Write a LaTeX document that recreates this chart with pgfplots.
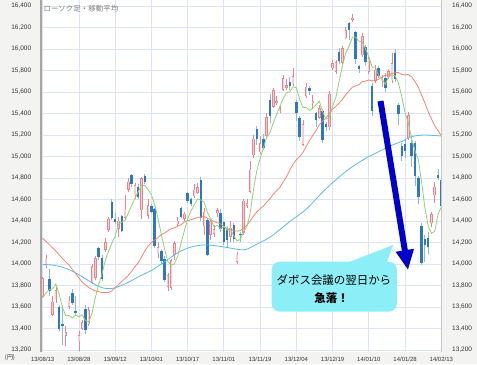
\documentclass[border=0pt]{standalone}
\usepackage{pgfplots}
\pgfplotsset{compat=1.18}
\usepackage{pgfplotstable}
\usetikzlibrary{arrows.meta}
\usepackage{fontspec}
\setmainfont{Liberation Sans}
\newfontfamily\jp{Noto Sans CJK JP}
\definecolor{bggray}{HTML}{F3F3F1}
\definecolor{gridc}{HTML}{DCE3F4}
\definecolor{upedge}{HTML}{E8838F}
\definecolor{upfill}{HTML}{F7CDD2}
\definecolor{dnbody}{HTML}{2E78BE}
\definecolor{dnwick}{HTML}{86B9E3}
\definecolor{maA}{HTML}{92D36E}
\definecolor{maB}{HTML}{F4846E}
\definecolor{maC}{HTML}{5BB9EA}
\definecolor{calloutc}{HTML}{8CEFF8}
\definecolor{arrowc}{HTML}{0000CC}
\definecolor{labc}{HTML}{333333}

\pgfplotstableread{
x O H L C
0 13700 13880 13690 13867
1 13980 14080 13960 14050
3 13530 13700 13520 13650
4 13670 13790 13640 13758
7 13330 13420 13240 13366
8 13600 13700 13580 13660
11 13280 13380 13190 13338
12 13400 13480 13390 13459
14 13440 13600 13420 13572
15 13830 14000 13810 13978
16 13870 14070 13850 14053
19 14130 14240 14110 14205
20 14320 14440 14300 14423
23 14330 14440 14250 14404
25 14430 14640 14410 14505
26 14690 14800 14670 14766
28 14640 14750 14600 14733
30 14500 14810 14420 14799
32 14450 14600 14420 14550
35 14100 14200 14060 14157
38 13790 13920 13750 13894
39 13780 14050 13760 14037
40 14080 14210 14040 14194
41 14370 14440 14350 14404
43 14420 14480 14400 14467
46 14630 14740 14610 14693
47 14660 14750 14650 14713
49 14350 14520 14270 14486
51 14270 14410 14220 14396
52 14280 14360 14250 14325
53 14470 14520 14440 14502
57 14250 14400 14200 14337
59 14020 14110 14000 14086
61 14290 14600 14270 14589
62 14540 14600 14520 14567
63 14670 14960 14660 14876
64 15010 15200 14990 15165
66 15040 15190 15020 15126
68 15190 15400 15180 15365
70 15460 15640 15450 15619
71 15500 15560 15480 15515
72 15420 15470 15400 15449
73 15620 15760 15610 15727
74 15640 15720 15620 15661
76 15670 15820 15660 15749
79 15110 15340 15100 15299
80 15560 15680 15540 15650
82 15500 15570 15440 15515
84 15360 15480 15350 15450
87 15270 15610 15250 15586
88 15820 15900 15800 15870
89 15790 15900 15770 15880
91 15870 16030 15860 16009
92 16100 16200 16090 16174
94 16270 16330 16250 16291
97 15940 16150 15930 16121
99 15790 15930 15770 15912
101 15700 15850 15680 15808
103 15700 15760 15650 15734
105 15740 15810 15720 15795
106 15710 15960 15680 15870
111 15170 15410 15150 15383
118 14380 14480 14340 14462
119 14640 14760 14570 14718
}\uptable

\pgfplotstableread{
x O H L C
2 13860 13950 13700 13752
5 13600 13620 13380 13396
6 13440 13620 13250 13424
9 13730 13770 13620 13636
10 13560 13700 13520 13542
13 13580 13620 13350 13388
17 14150 14160 14040 14065
18 14060 14080 13840 13860
21 14580 14600 14410 14425
22 14420 14470 14370 14387
24 14450 14460 14300 14311
27 14830 14840 14720 14742
29 14720 14740 14600 14620
31 14820 14840 14740 14760
33 14540 14560 14470 14484
34 14510 14520 14150 14170
36 14120 14140 14000 14024
37 14050 14070 13830 13853
42 14520 14530 14430 14441
44 14660 14670 14570 14586
45 14600 14610 14540 14561
48 14780 14810 14400 14426
50 14410 14430 14070 14088
54 14470 14510 14300 14327
55 14390 14400 14180 14201
56 14330 14350 14150 14225
58 14360 14380 14200 14228
60 14280 14300 14200 14269
65 15260 15280 15110 15164
67 15160 15210 15060 15076
69 15530 15580 15310 15381
75 15690 15740 15620 15655
77 15510 15530 15330 15407
78 15360 15380 15140 15177
81 15640 15660 15570 15611
83 15400 15410 15270 15341
85 15420 15440 15130 15152
86 15300 15320 15240 15279
90 15970 16010 15860 15889
93 16240 16250 16080 16178
95 16160 16170 15860 15908
96 15840 15850 15780 15814
98 16020 16040 15840 15880
100 15660 15680 15380 15422
102 15820 15840 15730 15747
104 15730 15780 15600 15641
107 15960 16000 15690 15720
108 15480 15500 15290 15391
109 15100 15130 14960 15006
110 15120 15160 14990 15050
112 15130 15150 14900 15000
113 15130 15140 14730 14820
114 14800 14820 14560 14619
115 14350 14380 13990 14009
116 14230 14270 14020 14180
117 14240 14300 14090 14155
120 14830 14880 14780 14800
121 14780 14790 14500 14535
}\dntable

\begin{document}
\begin{tikzpicture}[x=1bp,y=1bp]
\fill[bggray] (0,0) rectangle (477,364);
\useasboundingbox (0,0) rectangle (477,364);
\begin{axis}[
  at={(41.7bp,12.5bp)}, anchor=south west,
  scale only axis, width=400bp, height=351.5bp,
  xmin=-0.3, xmax=121.12, ymin=13186, ymax=16455.8,
  axis background/.style={fill=white},
  axis line style={draw=none},
  xtick={0,11,...,121},
  xticklabels={13/08/13,13/08/28,13/09/12,13/10/01,13/10/17,13/11/01,13/11/19,13/12/04,13/12/19,14/01/10,14/01/28,14/02/13},
  ytick={13200,13400,...,16400},
  grid=major, major grid style={draw=gridc, line width=0.8bp},
  major tick length=0pt,
  scaled y ticks=false,
  /pgf/number format/fixed,
  /pgf/number format/1000 sep={,},
  /pgf/number format/assume math mode=true,
  yticklabel style={font=\fontsize{6.5}{7}\selectfont, text=labc, xshift=-7bp},
  xticklabel style={font=\fontsize{6}{7}\selectfont, text=labc, yshift=-2bp},
]
% wicks
\addplot[draw=none, mark=none, forget plot, error bars/.cd, y dir=plus, y explicit, error mark=none,
  error bar style={draw=upedge, line width=0.7bp}]
  table[x=x, y=L, y error plus expr={\thisrow{H}-\thisrow{L}}] {\uptable};
\addplot[draw=none, mark=none, forget plot, error bars/.cd, y dir=plus, y explicit, error mark=none,
  error bar style={draw=dnwick, line width=0.8bp}]
  table[x=x, y=L, y error plus expr={\thisrow{H}-\thisrow{L}}] {\dntable};
% bodies
\addplot[draw=none, mark=none, forget plot, error bars/.cd, y dir=plus, y explicit, error mark=none,
  error bar style={draw=upedge, line width=2.5bp}]
  table[x=x, y=O, y error plus expr={\thisrow{C}-\thisrow{O}}] {\uptable};
\addplot[draw=none, mark=none, forget plot, error bars/.cd, y dir=plus, y explicit, error mark=none,
  error bar style={draw=upfill, line width=1.2bp}]
  table[x=x, y expr={\thisrow{O}+6}, y error plus expr={max(\thisrow{C}-\thisrow{O}-12,0)}] {\uptable};
\addplot[draw=none, mark=none, forget plot, error bars/.cd, y dir=plus, y explicit, error mark=none,
  error bar style={draw=dnbody, line width=2.5bp}]
  table[x=x, y=C, y error plus expr={\thisrow{O}-\thisrow{C}}] {\dntable};
% 75-day MA
\addplot[maC, line width=0.8bp, smooth, mark=none] coordinates {
(0,13995)(3,13990)(7,13960)(11,13900)(15,13825)(18,13780)(21,13772)(25,13815)(29,13880)(33,13940)
(37,14020)(41,14105)(45,14158)(49,14177)(53,14168)(57,14148)(60,14133)(62,14138)(66,14200)(69,14250)
(72,14320)(75,14395)(80,14510)(85,14670)(90,14810)(94,14905)(98,14983)(102,15045)(106,15105)(109,15140)
(112,15185)(116,15200)(121,15190)};
% 25-day MA
\addplot[maB, line width=0.8bp, mark=none] coordinates {
(0,14240)(2,14180)(4,14120)(6,14050)(8,13990)(10,13910)(12,13830)(14,13780)(16,13750)(18,13735)(20,13735)(21,13750)(22,13778)(23,13808)
(24,13839)(25,13864)(26,13893)(27,13933)(28,13976)(29,14010)(30,14066)(31,14120)(32,14167)(33,14200)
(34,14222)(35,14246)(36,14274)(37,14289)(38,14310)(39,14328)(40,14337)(41,14351)(42,14366)(43,14390)
(44,14405)(45,14411)(46,14422)(47,14435)(48,14436)(49,14443)(50,14426)(51,14411)(52,14394)(53,14385)
(54,14373)(55,14350)(56,14328)(57,14320)(58,14309)(59,14306)(60,14311)(61,14333)(62,14362)(63,14401)
(64,14446)(65,14485)(66,14514)(67,14539)(68,14575)(69,14607)(70,14649)(71,14682)(72,14712)(73,14764)
(74,14811)(75,14873)(76,14927)(77,14971)(78,14998)(79,15037)(80,15094)(81,15150)(82,15197)(83,15242)
(84,15296)(85,15331)(86,15359)(87,15400)(88,15440)(89,15468)(90,15497)(91,15532)(92,15576)(93,15609)
(94,15645)(95,15657)(96,15669)(97,15696)(98,15702)(99,15712)(100,15703)(101,15705)(102,15719)(103,15741)
(104,15754)(105,15760)(106,15771)(107,15779)(108,15781)(109,15763)(110,15759)(111,15763)(112,15740)(113,15698)
(114,15647)(115,15572)(116,15499)(117,15418)(118,15350)(119,15287)(120,15242)(121,15191)};
% 5-day MA
\addplot[maA, line width=0.8bp, mark=none] coordinates {
(0,13686)(1,13731)(2,13761)(3,13768)(4,13815)(5,13721)(6,13596)(7,13519)(8,13521)(9,13496)
(10,13526)(11,13508)(12,13527)(13,13473)(14,13460)(15,13547)(16,13690)(17,13811)(18,13906)(19,14032)
(20,14121)(21,14196)(22,14260)(23,14369)(24,14390)(25,14406)(26,14475)(27,14546)(28,14611)(29,14673)
(30,14732)(31,14731)(32,14692)(33,14643)(34,14553)(35,14424)(36,14277)(37,14138)(38,14020)(39,13993)
(40,14000)(41,14076)(42,14194)(43,14309)(44,14418)(45,14492)(46,14550)(47,14604)(48,14596)(49,14576)
(50,14481)(51,14422)(52,14344)(53,14359)(54,14328)(55,14350)(56,14316)(57,14318)(58,14264)(59,14215)
(60,14229)(61,14302)(62,14348)(63,14477)(64,14693)(65,14872)(66,14980)(67,15081)(68,15179)(69,15222)
(70,15313)(71,15391)(72,15466)(73,15538)(74,15594)(75,15601)(76,15648)(77,15640)(78,15530)(79,15457)
(80,15456)(81,15429)(82,15450)(83,15483)(84,15513)(85,15414)(86,15347)(87,15362)(88,15467)(89,15553)
(90,15701)(91,15847)(92,15964)(93,16026)(94,16108)(95,16112)(96,16073)(97,16062)(98,16003)(99,15927)
(100,15830)(101,15829)(102,15754)(103,15725)(104,15670)(105,15745)(106,15757)(107,15752)(108,15683)(109,15556)
(110,15407)(111,15310)(112,15166)(113,15052)(114,14974)(115,14766)(116,14526)(117,14357)(118,14285)(119,14304)
(120,14462)(121,14533)};
% title
\node[anchor=west, font=\jp\fontsize{7.5}{8}\selectfont, text=black!50, inner sep=0pt] at (axis cs:0.2,16379) {ローソク足・移動平均};
% arrow
\draw[arrowc, line width=6bp, -{Triangle[width=17bp,length=20bp]}] (axis cs:102.55,15516) -- (axis cs:110.9,13944);
% callout
\fill[calloutc, rounded corners=8bp] (axis cs:69.5,13556) rectangle (axis cs:107.5,14021);
\fill[calloutc] (axis cs:92.3,14010) -- (axis cs:106.4,14177) -- (axis cs:104.4,14010) -- cycle;
\node[font=\jp\fontsize{11.5}{12}\selectfont, inner sep=0pt] at (axis cs:88.4,13851) {ダボス会議の翌日から};
\node[font=\jp\bfseries\fontsize{11.5}{12}\selectfont, inner sep=0pt] at (axis cs:87.7,13681) {急落！};
\end{axis}
\begin{axis}[
  at={(41.7bp,12.5bp)}, anchor=south west,
  scale only axis, width=400bp, height=351.5bp,
  xmin=-0.3, xmax=121.12, ymin=13186, ymax=16455.8,
  hide x axis, axis y line*=right, axis line style={draw=none},
  ytick={13200,13400,...,16400},
  major tick length=0pt,
  scaled y ticks=false,
  /pgf/number format/fixed,
  /pgf/number format/1000 sep={,},
  /pgf/number format/assume math mode=true,
  yticklabel style={font=\fontsize{6.5}{7}\selectfont, text=labc, xshift=7bp},
]
\end{axis}
\draw[black!35, line width=1.6bp] (40.9,12) -- (40.9,364);
\draw[black!22, line width=0.6bp] (441.7,12) -- (441.7,364);
\node[font=\jp\fontsize{6}{7}\selectfont, text=labc] at (10,6) {(円)};
\end{tikzpicture}
\end{document}
